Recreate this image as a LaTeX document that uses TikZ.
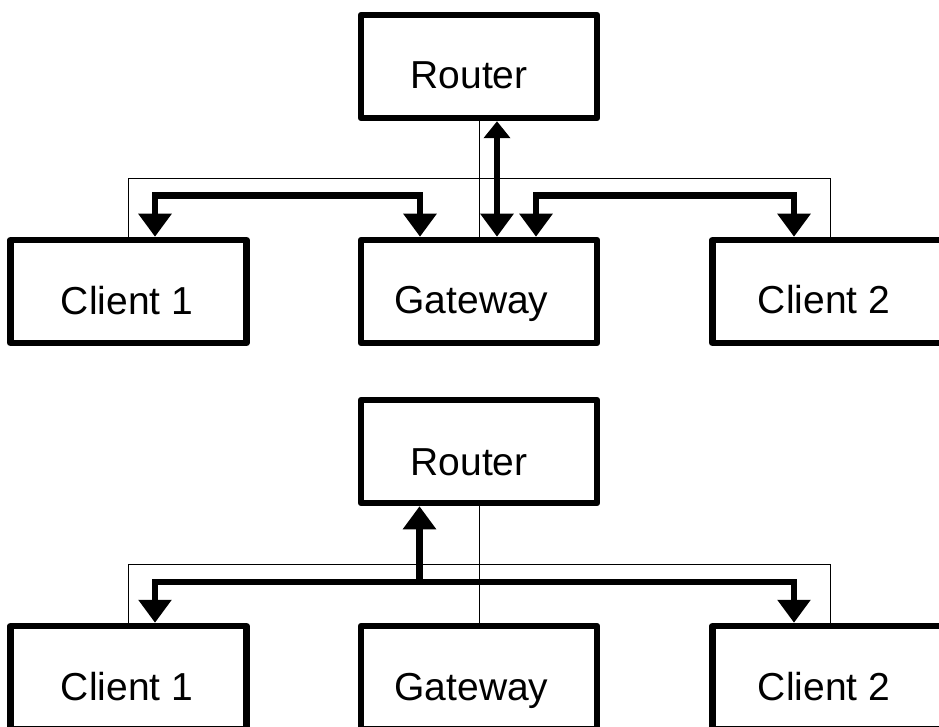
\documentclass[tikz,border=0pt]{standalone}
\usepackage{fontspec}
\setmainfont{Liberation Sans}
\usetikzlibrary{arrows.meta}
\tikzset{
  box/.style={draw=black, line width=6.5pt, line join=round, fill=white,
    rectangle, minimum width=236pt, minimum height=103pt, inner sep=0pt},
  lbl/.style={anchor=base, inner sep=0pt, font=\fontsize{39}{47}\selectfont},
  thin/.style={draw=black, line width=1pt},
  big/.style={draw=black, line width=6.5pt, line join=miter},
  tipA/.tip={Triangle[length=23pt,width=32pt]},
  tipB/.tip={Triangle[length=17pt,width=26pt]}
}
\begin{document}
\begin{tikzpicture}[x=1pt,y=-1pt]
\useasboundingbox (0,0) rectangle (939,727);
% ---------- top diagram ----------
\node[box] (R1) at (479,66.5) {};
\node[box] (C1a) at (128.5,291.5) {};
\node[box] (G1) at (479,291.5) {};
\node[box] (C2a) at (830.5,291.5) {};
\node[lbl] (R1t) at (469,89) {Router};
\node[lbl] (C1at) at (127,314) {Client 1};
\node[lbl] (G1t) at (471.5,313) {Gateway};
\node[lbl] (C2at) at (824,313) {Client 2};
% thin lines
\draw[thin] (R1.south) -- (G1.north);
\draw[thin] (C1a.north) -- ++(0,-57.75) -| (C2a.north);
% thick arrows
\draw[big,tipA-tipA] ([xshift=26.5pt]C1a.north) -- ++(0,-41) -| ([xshift=-59pt]G1.north);
\draw[big,tipB-tipA] ([xshift=18pt]R1.south) -- ([xshift=18pt]G1.north);
\draw[big,tipA-tipA] ([xshift=57pt]G1.north) -- ++(0,-41) -| ([xshift=-36.5pt]C2a.north);
% ---------- bottom diagram ----------
\node[box] (R2) at (479,451.5) {};
\node[box] (C1b) at (128.5,677.5) {};
\node[box] (G2) at (479,677.5) {};
\node[box] (C2b) at (830.5,677.5) {};
\node[lbl] (R2t) at (469,475) {Router};
\node[lbl] (C1bt) at (127,700) {Client 1};
\node[lbl] (G2t) at (471.5,700) {Gateway};
\node[lbl] (C2bt) at (824,700) {Client 2};
% thin lines
\draw[thin] (R2.south) -- (G2.north);
\draw[thin] (C1b.north) -- ++(0,-58.75) -| (C2b.north);
% thick arrows
\draw[big,tipA-tipA] ([xshift=26.5pt]C1b.north) -- ++(0,-40.75) -| ([xshift=-36.5pt]C2b.north);
\coordinate (j2) at (419.5,582);
\draw[big,-tipA] (j2) -- (j2 |- R2.south);
\end{tikzpicture}
\end{document}
